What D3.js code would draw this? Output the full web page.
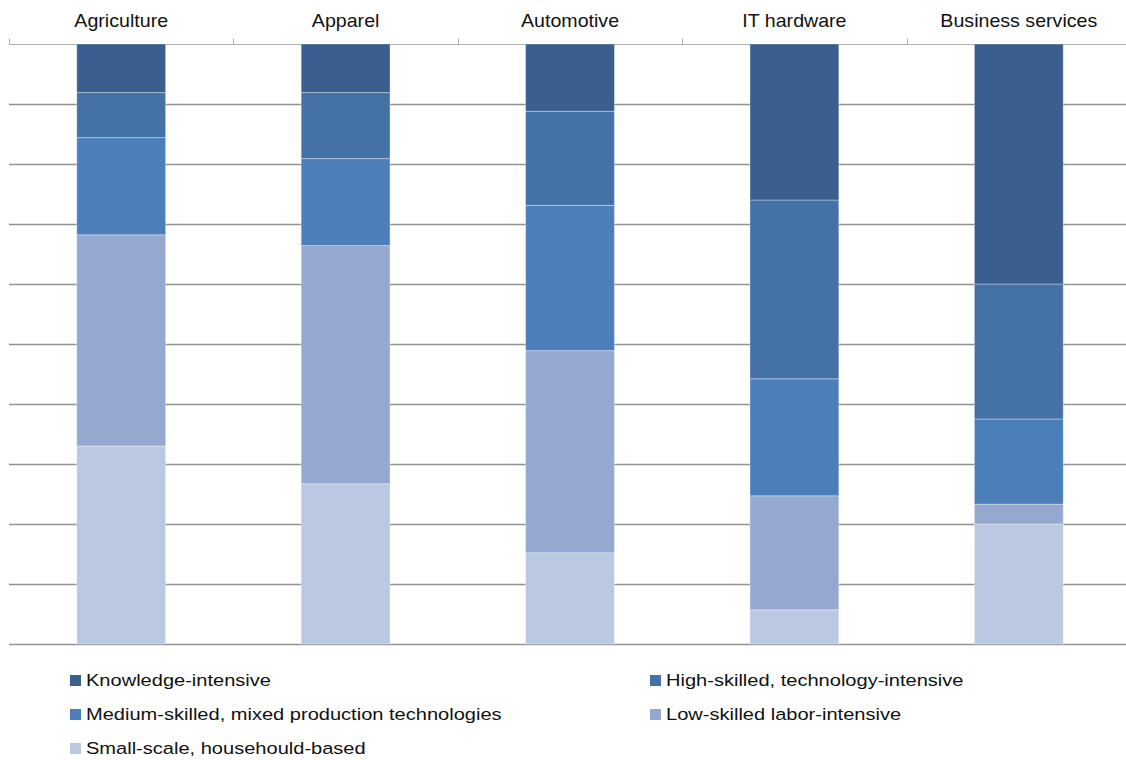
<!DOCTYPE html>
<html>
<head>
<meta charset="utf-8">
<script src="https://cdn.jsdelivr.net/npm/d3@7"></script>
<style>
  html, body { margin: 0; padding: 0; background: #fff; }
  svg { display: block; font-family: "Liberation Sans", Arial, sans-serif; }
</style>
</head>
<body>
<svg id="chart" width="1126" height="760"></svg>
<script>
// Sectors along the top axis
const categories = ["Agriculture", "Apparel", "Automotive", "IT hardware", "Business services"];

// Series, bottom of each stack first (shares in percent)
const seriesNames = [
  "Small-scale, househould-based",
  "Low-skilled labor-intensive",
  "Medium-skilled, mixed production technologies",
  "High-skilled, technology-intensive",
  "Knowledge-intensive"
];
const smallScale   = [33.0, 26.7, 15.2,  5.7, 20.0];
const lowSkilled   = [35.2, 39.7, 33.7, 19.0,  3.3];
const mediumSkill  = [16.2, 14.5, 24.2, 19.5, 14.2];
const highSkilled  = [ 7.5, 11.0, 15.7, 29.8, 22.5];
const knowledge    = [ 8.1,  8.1, 11.2, 26.0, 40.0];

const seriesValues = [smallScale, lowSkilled, mediumSkill, highSkilled, knowledge];
const colors = ["#BBC8E1", "#95A9D0", "#4C7FBA", "#4472A6", "#3A5F8E"];

// Legend order (two columns, row-wise)
const legendOrder = [4, 3, 2, 1, 0];

const svg = d3.select("#chart");
const plot = { left: 9, right: 1131, top: 44, bottom: 644 };

const x = d3.scaleBand().domain(categories).range([plot.left, plot.right]).padding(0);
const y = d3.scaleLinear().domain([0, 100]).range([plot.bottom, plot.top]);

// Horizontal gridlines every 10%
const gridTicks = d3.range(0, 100, 10);
svg.append("g").selectAll("line").data(gridTicks).join("line")
  .attr("x1", plot.left).attr("x2", plot.right)
  .attr("y1", d => Math.round(y(d)) + 0.5).attr("y2", d => Math.round(y(d)) + 0.5)
  .attr("stroke", "#929292").attr("stroke-width", 1.6);

// Top category axis
const axis = svg.append("g").attr("transform", `translate(0,${plot.top + 0.5})`);
axis.append("line").attr("x1", plot.left).attr("x2", plot.right)
  .attr("stroke", "#b0b0b0").attr("stroke-width", 1);
const boundaries = categories.map(c => x(c)).concat([plot.right]);
axis.selectAll("line.tick").data(boundaries).join("line").attr("class", "tick")
  .attr("x1", d => Math.round(d) + 0.5).attr("x2", d => Math.round(d) + 0.5)
  .attr("y1", 0).attr("y2", -6)
  .attr("stroke", "#b0b0b0").attr("stroke-width", 1);
svg.append("g").selectAll("g").data(categories).join("g")
  .attr("transform", d => `translate(${x(d) + x.bandwidth() / 2},27) scale(1.09,1)`)
  .append("text")
  .attr("text-anchor", "middle")
  .attr("font-size", 18)
  .attr("fill", "#111")
  .text(d => d);

// Stacked bars
const rows = categories.map((c, i) => {
  const r = { category: c };
  seriesNames.forEach((s, k) => { r[s] = seriesValues[k][i]; });
  return r;
});
const stack = d3.stack().keys(seriesNames)(rows);
const barW = x.bandwidth() * 0.396;

svg.append("g").selectAll("g").data(stack).join("g")
  .attr("fill", (d, i) => colors[i])
  .selectAll("rect").data(d => d).join("rect")
  .attr("x", d => x(d.data.category) + (x.bandwidth() - barW) / 2)
  .attr("y", d => y(d[1]))
  .attr("width", barW)
  .attr("height", d => y(d[0]) - y(d[1]))
  .attr("stroke", "rgba(255,255,255,0.35)")
  .attr("stroke-width", 1);

// Legend
const legendPos = [
  { x: 70, y: 680 }, { x: 650, y: 680 },
  { x: 70, y: 714 }, { x: 650, y: 714 },
  { x: 70, y: 748 }
];
const legend = svg.append("g").selectAll("g").data(legendOrder).join("g")
  .attr("transform", (d, i) => `translate(${legendPos[i].x},${legendPos[i].y})`);
legend.append("rect").attr("x", 0).attr("y", -5).attr("width", 11).attr("height", 11)
  .attr("fill", d => colors[d]);
legend.append("text")
  .attr("transform", "translate(16,6) scale(1.18,1)")
  .attr("font-size", 17).attr("fill", "#111")
  .text(d => seriesNames[d]);
</script>
</body>
</html>
